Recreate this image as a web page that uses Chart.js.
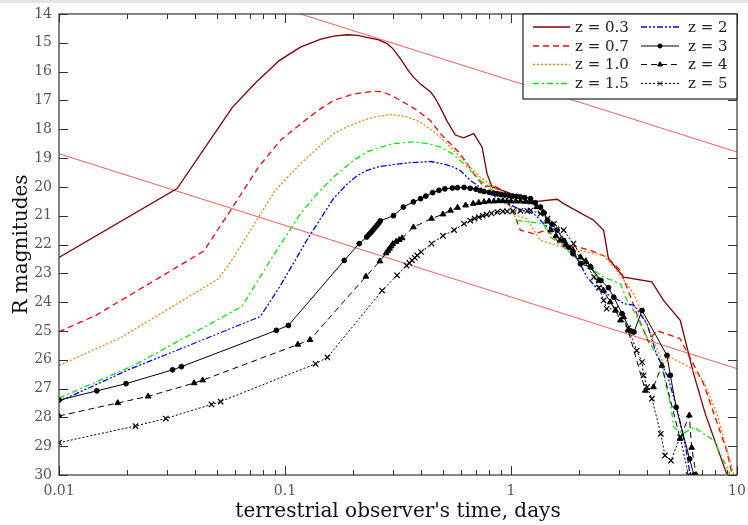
<!DOCTYPE html>
<html>
<head>
<meta charset="utf-8">
<script src="https://cdn.jsdelivr.net/npm/chart.js@4"></script>
<style>
  html, body { margin: 0; padding: 0; background: #ffffff; }
  #wrap { position: relative; width: 748px; height: 525px; }
  canvas { display: block; }
</style>
</head>
<body>
<div id="wrap"><canvas id="c" width="748" height="525" style="width:748px;height:525px"></canvas></div>
<script>
// ---------------- DATA ----------------
const xTickValues = [0.01, 0.1, 1, 10];
const xTickLabels = ['0.01', '0.1', '1', '10'];
const yTickValues = [14,15,16,17,18,19,20,21,22,23,24,25,26,27,28,29,30];

const seriesLabels = ['z = 0.3','z = 0.7','z = 1.0','z = 1.5','z = 2','z = 3','z = 4','z = 5'];

const t03 = [0.01,0.0333,0.0586,0.0747,0.0946,0.117,0.143,0.164,0.188,0.21,0.23,0.26,0.283,0.30,0.324,0.35,0.371,0.40,0.42,0.44,0.46,0.487,0.52,0.567,0.617,0.684,0.745,0.783,0.824,0.96,1.22,1.6,1.71,2.32,2.57,2.7,3.15,4.2,4.73,5.61,6.43,7.24,9.0];
const m03 = [22.45,20.06,17.23,16.36,15.61,15.15,14.88,14.77,14.72,14.74,14.81,14.9,15.03,15.2,15.55,15.95,16.2,16.45,16.58,16.7,16.9,17.25,17.7,18.2,18.3,18.15,18.62,19.54,20.0,20.18,20.53,20.43,20.58,21.16,21.51,22.49,23.13,23.3,23.94,24.63,26.49,27.88,29.96];

const t07 = [0.01,0.0147,0.0437,0.0587,0.0764,0.0953,0.117,0.14,0.164,0.2,0.247,0.27,0.30,0.324,0.35,0.384,0.44,0.487,0.597,0.684,0.76,0.84,0.90,0.96,1.03,1.1,1.26,1.45,1.65,2.0,2.25,2.66,3.05,3.3,3.6,4.06,4.4,5.6,7.11,9.0,9.5];
const m07 = [25.03,24.44,22.23,20.7,19.31,18.39,17.82,17.35,17.0,16.78,16.68,16.7,16.85,17.0,17.15,17.34,17.7,18.15,18.85,19.54,20.0,19.95,20.1,20.47,20.93,21.5,21.63,21.5,21.97,22.1,22.2,22.44,22.9,23.6,24.4,25.39,24.98,25.27,26.83,29.15,29.96];

const t10 = [0.01,0.0187,0.0508,0.0587,0.0764,0.0906,0.117,0.164,0.19,0.22,0.25,0.292,0.34,0.397,0.45,0.504,0.638,0.73,0.84,0.96,1.06,1.17,1.26,1.35,1.6,2.17,2.57,2.94,3.49,3.86,4.3,4.73,5.07,6.17,7.1,8.16,9.66];
const m10 = [26.2,25.24,23.19,22.5,21.05,20.12,19.2,18.15,17.9,17.7,17.57,17.49,17.55,17.75,18.05,18.39,19.2,19.66,20.0,20.47,21.0,21.1,21.5,21.86,22.03,22.26,22.38,22.9,23.71,24.52,25.4,26.14,25.91,26.26,26.72,27.88,29.96];

const t15 = [0.01,0.0214,0.0645,0.086,0.117,0.14,0.164,0.2,0.23,0.26,0.30,0.37,0.43,0.487,0.55,0.62,0.73,0.905,0.99,1.06,1.22,1.39,1.5,1.89,2.32,2.57,3.05,3.26,3.49,4.0,4.6,5.1,5.25,5.75,6.46,7.9,9.3];
const m15 = [27.33,26.2,24.15,22.56,20.93,20.2,19.66,19.1,18.79,18.65,18.5,18.44,18.5,18.62,18.85,19.2,19.77,20.35,20.7,21.16,21.22,21.28,21.74,22.38,22.9,23.13,23.36,23.94,24.29,25.22,26.1,27.6,28.34,28.57,28.34,28.8,29.96];

const t20 = [0.01,0.02,0.0778,0.095,0.113,0.126,0.139,0.152,0.164,0.19,0.21,0.23,0.26,0.32,0.36,0.44,0.5,0.557,0.6,0.66,0.78,0.96,1.13,1.26,1.45,1.6,1.88,2.17,2.45,2.85,3.17,3.5,4.0,4.4,4.95,5.5,6.0,6.2];
const m20 = [27.45,26.37,24.5,23.45,22.44,21.8,21.28,20.8,20.4,19.87,19.6,19.43,19.3,19.2,19.16,19.12,19.2,19.31,19.45,19.77,20.18,20.58,20.82,20.93,21.4,21.5,22.2,23.13,23.6,23.83,24.06,24.1,24.75,25.8,26.6,27.88,29.27,30.0];

const t30 = [0.01,0.0147,0.0198,0.0318,0.0348,0.0916,0.1035,0.183,0.213,0.23,0.235,0.24,0.245,0.25,0.255,0.26,0.264,0.302,0.334,0.37,0.398,0.42,0.45,0.48,0.51,0.55,0.58,0.62,0.66,0.70,0.73,0.76,0.80,0.84,0.87,0.90,0.94,0.98,1.02,1.06,1.10,1.15,1.22,1.28,1.35,1.40,1.45,1.52,1.60,1.71,1.80,1.88,2.03,2.25,2.5,2.7,2.85,3.1,3.39,3.5,3.8,4.9,5.07,5.38,6.17,6.45];
const m30 = [27.4,27.08,26.83,26.35,26.24,24.98,24.81,22.55,21.97,21.74,21.66,21.58,21.5,21.42,21.34,21.26,21.18,21.0,20.7,20.52,20.41,20.32,20.2,20.12,20.07,20.04,20.03,20.02,20.05,20.08,20.13,20.16,20.19,20.22,20.24,20.26,20.28,20.3,20.32,20.33,20.35,20.37,20.41,20.55,20.7,20.9,21.16,21.3,21.5,21.86,22.1,22.32,22.67,22.78,23.25,23.5,23.83,24.4,25.0,25.04,24.29,25.85,26.54,27.65,29.44,30.0];

const t40 = [0.01,0.0182,0.0248,0.0396,0.0432,0.114,0.129,0.228,0.263,0.28,0.285,0.29,0.295,0.30,0.31,0.32,0.33,0.37,0.445,0.50,0.54,0.58,0.63,0.68,0.72,0.76,0.80,0.84,0.88,0.92,0.96,1.0,1.05,1.1,1.16,1.22,1.3,1.39,1.45,1.5,1.58,1.65,1.75,1.88,2.03,2.15,2.25,2.45,2.57,2.75,2.9,3.05,3.15,3.3,3.93,4.27,4.65,5.6,6.15,6.3,6.6];
const m40 = [27.95,27.5,27.27,26.81,26.71,25.47,25.31,23.11,22.58,22.3,22.22,22.14,22.06,21.98,21.9,21.84,21.78,21.4,21.1,20.95,20.82,20.72,20.64,20.58,20.55,20.52,20.5,20.5,20.49,20.49,20.5,20.5,20.5,20.5,20.51,20.53,20.7,20.88,21.2,21.5,21.7,21.86,22.0,22.2,22.44,22.6,22.78,23.25,23.6,24.0,24.29,24.63,24.52,24.98,27.07,26.95,26.2,28.74,27.93,29.05,30.0];

const t50 = [0.01,0.0218,0.0297,0.0473,0.0519,0.1365,0.154,0.269,0.313,0.345,0.355,0.365,0.375,0.385,0.40,0.445,0.50,0.56,0.62,0.66,0.69,0.72,0.75,0.78,0.82,0.87,0.92,0.96,1.02,1.1,1.18,1.22,1.35,1.45,1.55,1.71,1.89,2.1,2.33,2.45,2.57,2.65,2.9,3.3,3.6,3.8,3.86,4.0,4.2,4.6,4.8,5.1,5.6,6.1];
const m50 = [28.88,28.3,28.04,27.55,27.45,26.14,25.92,23.6,23.07,22.73,22.64,22.55,22.46,22.38,22.26,21.97,21.7,21.5,21.28,21.17,21.1,21.05,21.0,20.96,20.92,20.88,20.85,20.85,20.84,20.83,20.83,20.82,20.93,21.1,21.28,21.5,21.97,22.55,23.13,23.5,23.94,24.23,24.23,24.9,25.68,26.08,26.54,26.95,27.35,28.57,29.32,29.5,28.69,30.0];

// reference straight lines (log-time vs magnitude)
const tRefLow = [0.01, 10];
const mRefLow = [18.85, 26.31];
const tRefHigh = [0.01, 10];
const mRefHigh = [11.35, 18.79];

// ---------------- BUILD ----------------
function pts(ts, ms) { return ts.map((t, i) => ({ x: t, y: ms[i] })); }

const styles = [
  { color: '#7f0000', dash: [], point: false },
  { color: '#ff0000', dash: [6, 4], point: false },
  { color: '#ff8000', dash: [2, 2], point: false },
  { color: '#00ee00', dash: [6, 3, 2, 3], point: false },
  { color: '#0000ff', dash: [6, 2, 2, 2, 2, 2], point: false },
  { color: '#000000', dash: [], point: 'circle', r: 2.4 },
  { color: '#000000', dash: [6, 4], point: 'triangle', r: 3.3 },
  { color: '#000000', dash: [2, 2], point: 'crossRot', r: 3.8 }
];
const seriesT = [t03, t07, t10, t15, t20, t30, t40, t50];
const seriesM = [m03, m07, m10, m15, m20, m30, m40, m50];

const datasets = [];
datasets.push({ label: '_ref1', data: pts(tRefLow, mRefLow), borderColor: '#ff5a5a', borderWidth: 1, pointRadius: 0, fill: false, order: 20 });
datasets.push({ label: '_ref2', data: pts(tRefHigh, mRefHigh), borderColor: '#ff5a5a', borderWidth: 1, pointRadius: 0, fill: false, order: 20 });
seriesLabels.forEach((lab, i) => {
  const s = styles[i];
  datasets.push({
    label: lab,
    data: pts(seriesT[i], seriesM[i]),
    borderColor: s.color,
    backgroundColor: s.color,
    borderWidth: s.point ? 1 : 1.3,
    borderDash: s.dash,
    pointRadius: s.point ? s.r : 0,
    pointStyle: s.point || 'circle',
    pointBorderWidth: s.point === 'crossRot' ? 1.2 : 1,
    pointBackgroundColor: s.color,
    pointBorderColor: s.color,
    tension: 0,
    fill: false,
    order: 10 - i,
    legendInfo: s
  });
});

const SERIF = '"DejaVu Serif", serif';

const decorPlugin = {
  id: 'decor',
  beforeDraw(chart) {
    const ctx = chart.ctx;
    ctx.save();
    ctx.fillStyle = '#ffffff';
    ctx.fillRect(0, 0, chart.width, chart.height);
    ctx.fillStyle = '#e4e4e4';
    ctx.fillRect(0, 0, chart.width, 3);
    ctx.restore();
  },
  afterDraw(chart) {
    const ctx = chart.ctx;
    const a = chart.chartArea;
    const xs = chart.scales.x, ys = chart.scales.y;
    ctx.save();
    // frame
    ctx.strokeStyle = '#333333';
    ctx.lineWidth = 1.2;
    ctx.setLineDash([]);
    ctx.strokeRect(a.left, a.top, a.right - a.left, a.bottom - a.top);
    // y ticks (inward, both sides)
    ctx.lineWidth = 1;
    ctx.beginPath();
    yTickValues.forEach(v => {
      const y = Math.round(ys.getPixelForValue(v)) + 0.5;
      ctx.moveTo(a.left, y); ctx.lineTo(a.left + 9, y);
      ctx.moveTo(a.right, y); ctx.lineTo(a.right - 9, y);
    });
    // x ticks, major and minor
    xTickValues.forEach((dec, di) => {
      for (let k = 1; k <= 9; k++) {
        const v = dec * k;
        if (k > 1 && di === xTickValues.length - 1) break;
        const x = Math.round(xs.getPixelForValue(v)) + 0.5;
        const len = k === 1 ? 9 : 5;
        ctx.moveTo(x, a.bottom); ctx.lineTo(x, a.bottom - len);
        ctx.moveTo(x, a.top); ctx.lineTo(x, a.top + len);
      }
    });
    ctx.stroke();

    // axis titles
    ctx.fillStyle = '#111111';
    ctx.font = '20px ' + SERIF;
    ctx.textAlign = 'center';
    ctx.textBaseline = 'middle';
    ctx.fillText("terrestrial observer's time, days", (a.left + a.right) / 2, 512);
    ctx.save();
    ctx.translate(22, (a.top + a.bottom) / 2);
    ctx.rotate(-Math.PI / 2);
    ctx.fillText('R magnitudes', 0, 0);
    ctx.restore();

    // legend box
    const bw = 214, bh = 85;
    const bx = a.right - bw, by = a.top;
    ctx.fillStyle = '#ffffff';
    ctx.fillRect(bx, by, bw, bh);
    ctx.strokeStyle = '#222222';
    ctx.lineWidth = 1.2;
    ctx.strokeRect(bx, by, bw, bh);
    const rows = [13, 32, 50.5, 69.5];
    const cols = [{ l0: 10, l1: 47, tx: 52 }, { l0: 118, l1: 156, tx: 165 }];
    ctx.font = '15px ' + SERIF;
    ctx.textAlign = 'left';
    ctx.textBaseline = 'middle';
    const legendSets = chart.data.datasets.filter(d => d.legendInfo);
    legendSets.forEach((d, i) => {
      const col = cols[Math.floor(i / 4)];
      const yy = by + rows[i % 4];
      const s = d.legendInfo;
      ctx.strokeStyle = s.color;
      ctx.lineWidth = d.borderWidth;
      ctx.setLineDash(s.dash);
      ctx.beginPath();
      ctx.moveTo(bx + col.l0, yy);
      ctx.lineTo(bx + col.l1, yy);
      ctx.stroke();
      ctx.setLineDash([]);
      if (s.point) {
        ctx.fillStyle = s.color;
        ctx.lineWidth = 1;
        Chart.helpers.drawPoint(ctx, { pointStyle: s.point, radius: s.r * 0.85, borderWidth: 1, rotation: 0 }, bx + (col.l0 + col.l1) / 2, yy);
      }
      ctx.fillStyle = '#222222';
      ctx.fillText(d.label, bx + col.tx, yy + 1);
    });
    ctx.restore();
  }
};

new Chart(document.getElementById('c'), {
  type: 'line',
  data: { datasets },
  plugins: [decorPlugin],
  options: {
    responsive: false,
    animation: false,
    devicePixelRatio: 1,
    layout: { padding: { top: 14, right: 11, bottom: 0, left: 0 } },
    plugins: { legend: { display: false }, tooltip: { enabled: false } },
    scales: {
      x: {
        type: 'logarithmic',
        min: 0.01,
        max: 10,
        grid: { display: false, drawTicks: false },
        border: { display: false },
        afterBuildTicks: (scale) => { scale.ticks = xTickValues.map(v => ({ value: v })); },
        afterFit: (scale) => { scale.height = 50; scale.paddingLeft = 0; scale.paddingRight = 0; },
        ticks: {
          autoSkip: false,
          maxRotation: 0,
          padding: 8,
          color: '#555555',
          font: { family: SERIF, size: 14 },
          callback: (v) => { const i = xTickValues.findIndex(t => Math.abs(t - v) < 1e-9); return i >= 0 ? xTickLabels[i] : ''; }
        }
      },
      y: {
        type: 'linear',
        reverse: true,
        min: 14,
        max: 30,
        grid: { display: false, drawTicks: false },
        border: { display: false },
        afterBuildTicks: (scale) => { scale.ticks = yTickValues.map(v => ({ value: v })); },
        afterFit: (scale) => { scale.width = 59; scale.paddingTop = 0; scale.paddingBottom = 0; },
        ticks: {
          padding: 7,
          color: '#555555',
          font: { family: SERIF, size: 14 },
          callback: (v) => String(v)
        }
      }
    }
  }
});
</script>
</body>
</html>
